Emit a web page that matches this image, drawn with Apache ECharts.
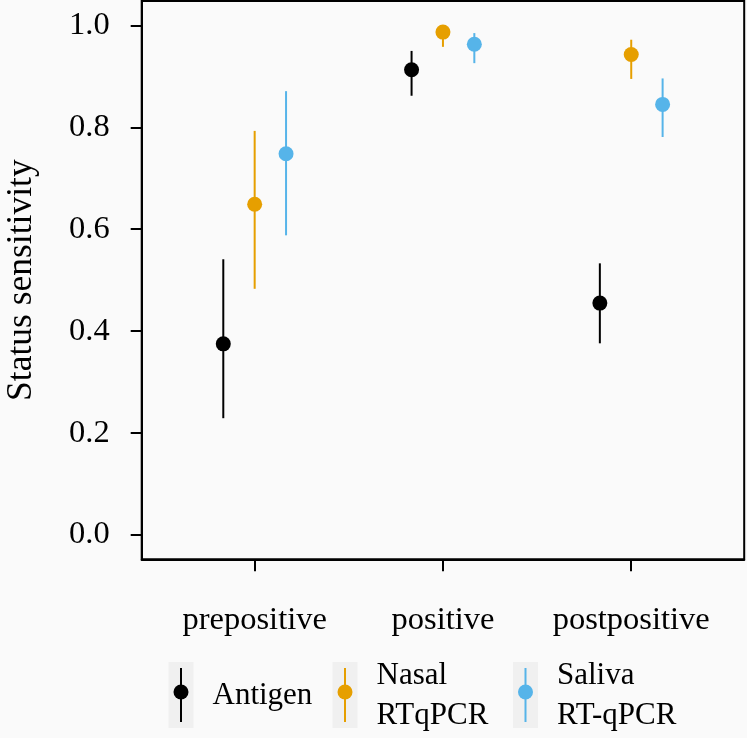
<!DOCTYPE html>
<html>
<head>
<meta charset="utf-8">
<script src="https://cdn.jsdelivr.net/npm/echarts@6/dist/echarts.min.js"></script>
<style>
html,body{margin:0;padding:0;background:#fafafa;}
#chart{width:747px;height:738px;}
</style>
</head>
<body>
<div id="chart"></div>
<script>
var categories = ['prepositive', 'positive', 'postpositive'];
var seriesNames = ['Antigen', 'Nasal\nRTqPCR', 'Saliva\nRT-qPCR'];
var antigenMid  = [0.375, 0.913, 0.455];
var antigenLow  = [0.229, 0.862, 0.376];
var antigenHigh = [0.541, 0.950, 0.533];
var nasalMid  = [0.649, 0.987, 0.943];
var nasalLow  = [0.483, 0.958, 0.895];
var nasalHigh = [0.793, 1.000, 0.972];
var salivaMid  = [0.748, 0.963, 0.845];
var salivaLow  = [0.588, 0.926, 0.781];
var salivaHigh = [0.871, 0.985, 0.896];
var yTicks = [0, 0.2, 0.4, 0.6, 0.8, 1.0];

var colors = ['#000000', '#E69F00', '#56B4E9'];
var mids = [antigenMid, nasalMid, salivaMid];
var lows = [antigenLow, nasalLow, salivaLow];
var highs = [antigenHigh, nasalHigh, salivaHigh];
var dodge = [-1/6, 0, 1/6];
var FONT = 'Liberation Serif';

var series = [];
for (var s = 0; s < 3; s++) {
  var errData = [], ptData = [];
  for (var i = 0; i < categories.length; i++) {
    errData.push([i + 1 + dodge[s], lows[s][i], highs[s][i]]);
    ptData.push([i + 1 + dodge[s], mids[s][i]]);
  }
  (function (col) {
    series.push({
      type: 'custom',
      name: seriesNames[s] + ' CI',
      data: errData,
      silent: true,
      z: 2,
      renderItem: function (params, api) {
        var p1 = api.coord([api.value(0), api.value(1)]);
        var p2 = api.coord([api.value(0), api.value(2)]);
        return {
          type: 'line',
          shape: {x1: p1[0], y1: p1[1], x2: p2[0], y2: p2[1]},
          style: {stroke: col, lineWidth: 2}
        };
      }
    });
  })(colors[s]);
  series.push({
    type: 'scatter',
    name: seriesNames[s],
    data: ptData,
    symbol: 'circle',
    symbolSize: 15,
    itemStyle: {color: colors[s], opacity: 1},
    z: 3
  });
}

var graphics = [];
var keyX = [168.5, 332.5, 513];
for (var k = 0; k < 3; k++) {
  var cx = keyX[k] + 12.5;
  graphics.push({type: 'rect', shape: {x: keyX[k], y: 662, width: 25, height: 66}, style: {fill: '#f0f0f0'}, z: 1});
  graphics.push({type: 'line', shape: {x1: cx, y1: 668, x2: cx, y2: 722}, style: {stroke: colors[k], lineWidth: 2}, z: 2});
  graphics.push({type: 'circle', shape: {cx: cx, cy: 692, r: 7.5}, style: {fill: colors[k]}, z: 3});
  graphics.push({type: 'text', x: keyX[k] + 44, y: 696, style: {
    text: seriesNames[k], font: '31px "' + FONT + '"', fill: '#000',
    verticalAlign: 'middle', align: 'left', lineHeight: 40
  }, z: 3});
}

var chart = echarts.init(document.getElementById('chart'));
chart.setOption({
  backgroundColor: '#fafafa',
  animation: false,
  textStyle: {fontFamily: FONT},
  grid: {left: 141.7, top: 1, width: 602.5, height: 558.3, show: true, borderColor: '#000', borderWidth: 2,
    backgroundColor: 'transparent', containLabel: false, outerBoundsMode: 'none'},
  xAxis: {
    type: 'value', min: 0.4, max: 3.6,
    axisLine: {show: true, onZero: false, lineStyle: {color: '#000', width: 2}},
    axisTick: {show: true, length: 12, lineStyle: {color: '#000', width: 2}, customValues: [1, 2, 3]},
    axisLabel: {customValues: [1, 2, 3], formatter: function (v) { return categories[Math.round(v) - 1]; },
      color: '#000', fontSize: 32.5, fontFamily: FONT, margin: 45},
    splitLine: {show: false}
  },
  yAxis: {
    type: 'value', min: -0.048, max: 1.048,
    name: 'Status sensitivity', nameLocation: 'middle', nameGap: 102,
    nameTextStyle: {color: '#000', fontSize: 35.5, fontFamily: FONT},
    axisLine: {show: true, onZero: false, lineStyle: {color: '#000', width: 2}},
    axisTick: {show: true, length: 11, lineStyle: {color: '#000', width: 2}, customValues: yTicks},
    axisLabel: {customValues: yTicks, formatter: function (v) { return v.toFixed(1); },
      color: '#000', fontSize: 32.5, fontFamily: FONT, margin: 32},
    splitLine: {show: false}
  },
  series: series,
  graphic: graphics
});
</script>
</body>
</html>
